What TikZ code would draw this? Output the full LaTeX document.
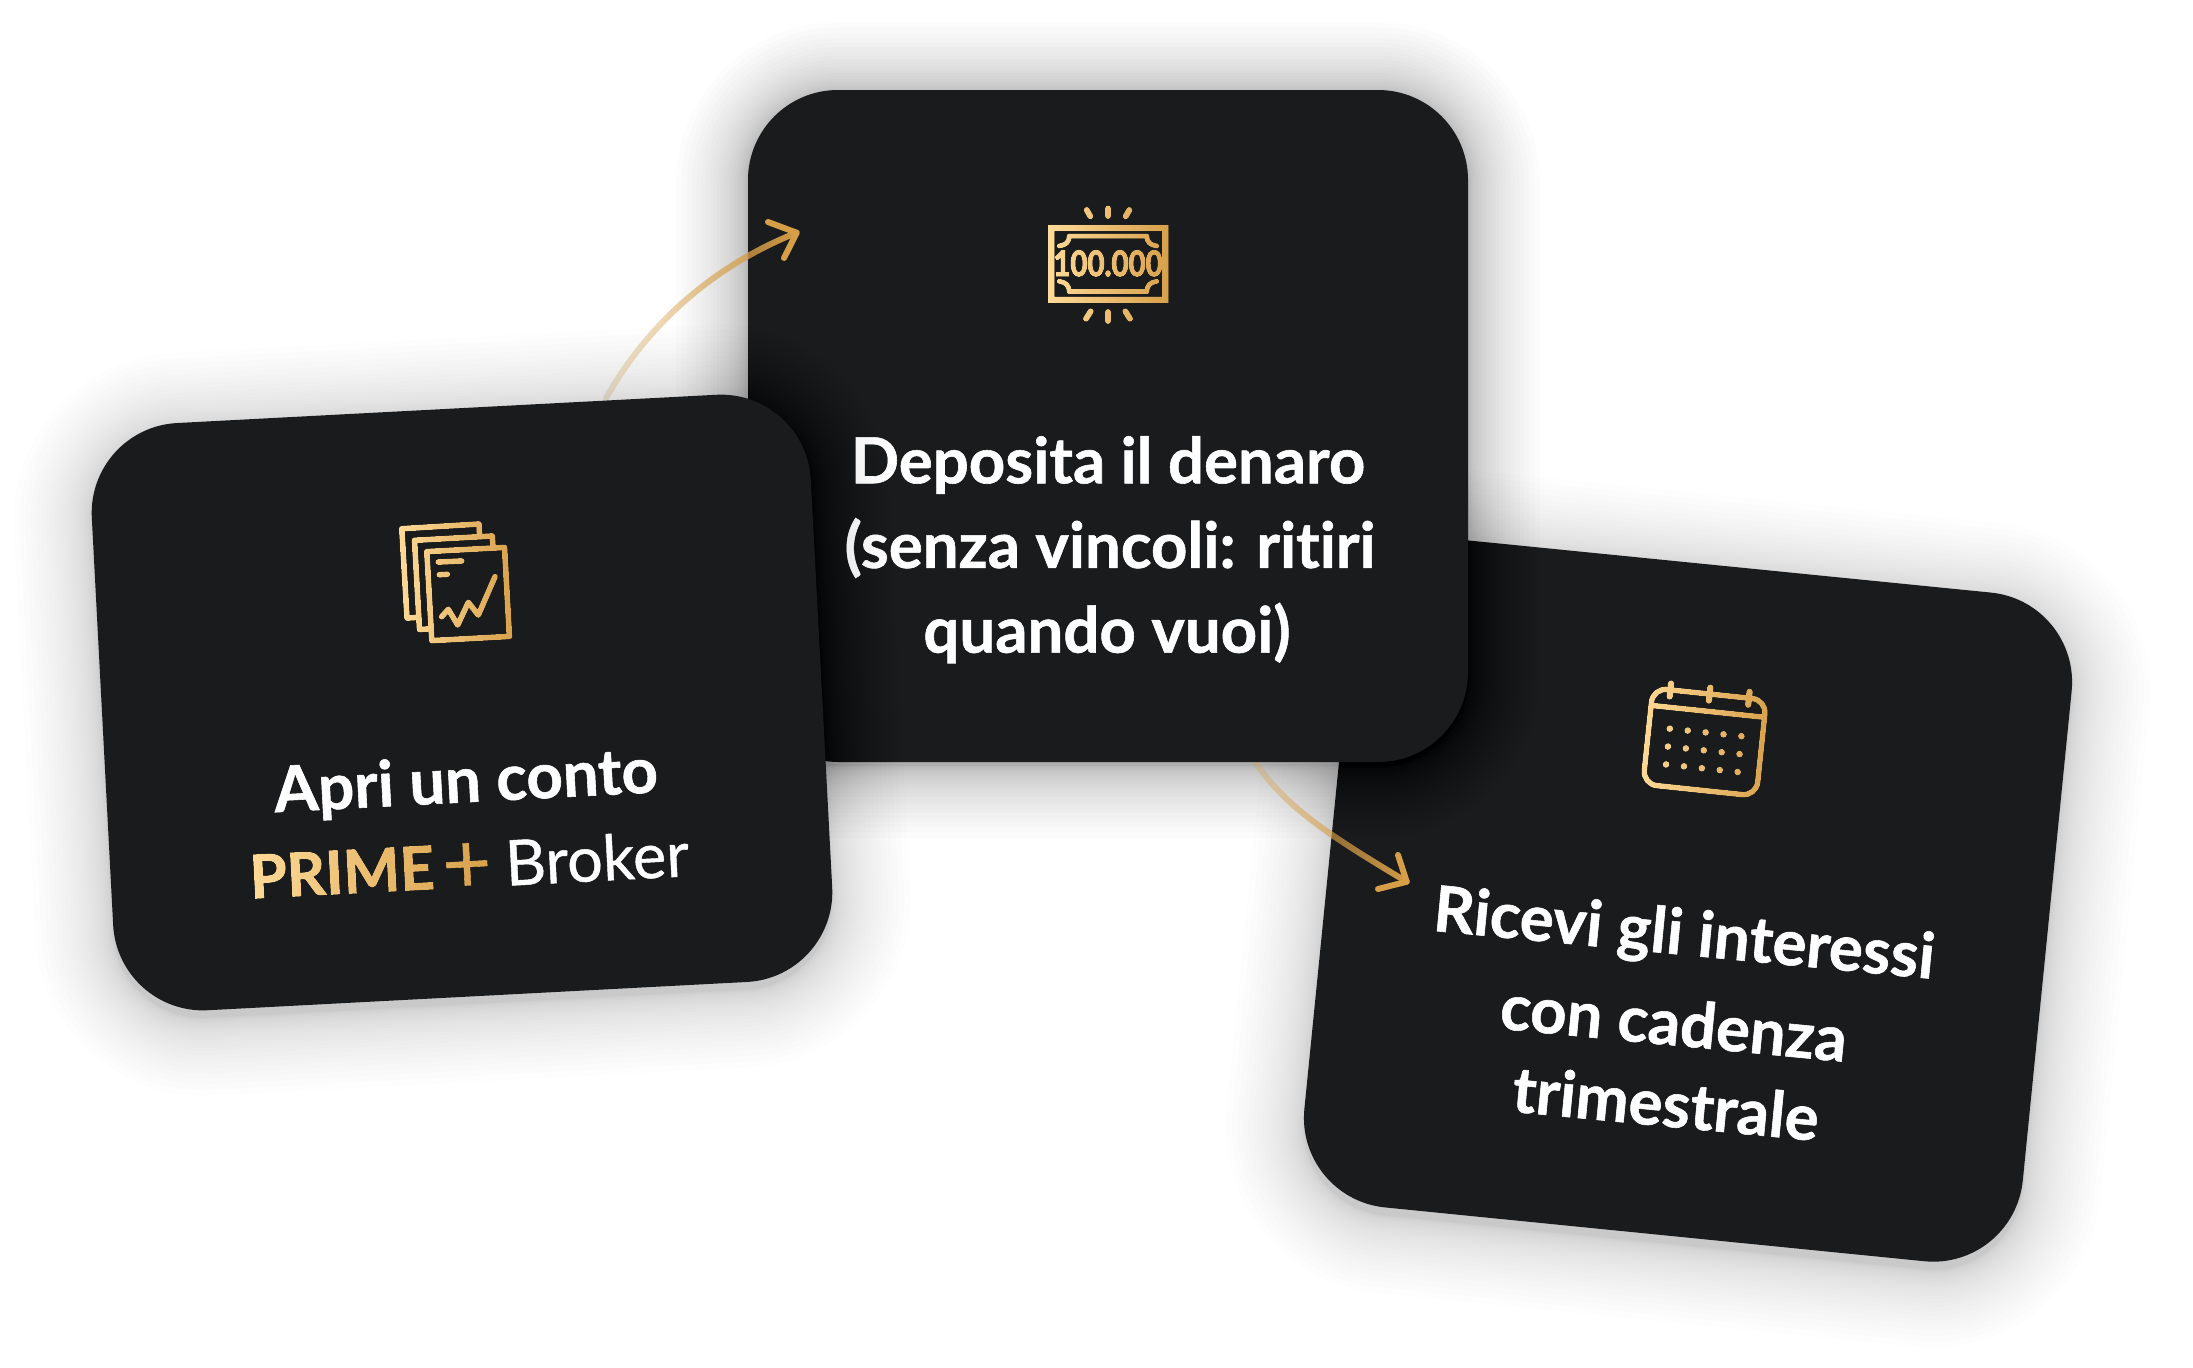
\documentclass[tikz,border=0pt]{standalone}
\usepackage{fontspec}
\setmainfont{Lato}
\newfontfamily\latof[Ligatures=NoCommon,BoldFeatures={FakeBold=0.9}]{Lato}
\newfontfamily\latom[Ligatures=NoCommon,UprightFeatures={FakeBold=0.7}]{Lato}
\newfontfamily\latoh[Ligatures=NoCommon,BoldFeatures={FakeBold=1.8}]{Lato}
\newfontfamily\latox[BoldFeatures={FakeBold=4}]{Lato}
\usetikzlibrary{fadings}
\definecolor{cardc}{HTML}{191B1D}
\definecolor{gL}{HTML}{FFDC9A}
\definecolor{gR}{HTML}{D69E47}
\tikzset{
  px/.style={x=1pt,y=-1pt},
  card/.style={fill=cardc,draw=none,rounded corners=90pt,inner sep=0pt,minimum width=720pt},
  cardtext/.style={text=white,font=\latof\bfseries\fontsize{63.5}{66}\selectfont,inner sep=0pt},
  brokertext/.style={text=white,font=\latom\fontsize{63}{66}\selectfont,inner sep=0pt},
  ico/.style={transparent!0,line cap=round,line join=round,line width=5.8pt},
  arrowline/.style={draw=gR,line width=6pt,line cap=round,line join=round}
}
\tikzfading[name=arrowfadeA,left color=transparent!82,right color=transparent!0]
\tikzfading[name=arrowfadeB,left color=transparent!72,right color=transparent!0]
\begin{tikzfadingfrompicture}[name=iconA,px]
  \path (395,515) rectangle (520,650);
  \draw[ico] (426.8,551.6) -- (504.5,547.4) -- (509.4,636.4) -- (431.8,640.6) -- cycle;
  \draw[ico] (493,547) -- (492.3,536) -- (414.5,540.3) -- (419.5,629.5) -- (428,629);
  \draw[ico] (479.5,535) -- (479,524) -- (401.8,528.7) -- (407,618) -- (416,617.5);
  \draw[ico] (438.3,562) -- (461.7,561);
  \draw[ico] (439.3,574.7) -- (447.3,574.3);
  \draw[ico] (441.7,616.7) -- (448.3,609.3) -- (457.7,625) -- (468.3,602.3) -- (478.3,615) -- (495,576.7);
\end{tikzfadingfrompicture}
\begin{tikzfadingfrompicture}[name=iconB,px]
  \path (1045,200) rectangle (1172,330);
  \draw[ico,line width=6.4pt,line cap=butt,line join=miter] (1051.3,228) rectangle (1165.3,299.7);
  \draw[ico,line width=5pt] (1059.3,246) .. controls (1066,245) and (1069,242) .. (1069.3,236) -- (1146.7,236) .. controls (1147,242) and (1150,245) .. (1156.7,246);
  \draw[ico,line width=5pt] (1059.3,281.3) .. controls (1066,282.3) and (1069,285.5) .. (1069.3,291.7) -- (1146.7,291.7) .. controls (1147,285.5) and (1150,282.3) .. (1156.7,281.3);
  \foreach \xa/\ya/\xb/\yb in {1086.7/210/1090.3/216.3,1108/208.5/1108/216,1129.3/210/1125.7/216.3,1090.7/311.3/1086/318.7,1108/312/1108/321,1125.3/311.3/1130/318.7}
    \draw[ico,line width=6pt] (\xa,\ya) -- (\xb,\yb);
  \node[text=transparent!0,font=\latox\bfseries\fontsize{35}{35}\selectfont,xscale=.84,inner sep=0pt] at (1108,263.3) {100.000};
\end{tikzfadingfrompicture}
\begin{tikzfadingfrompicture}[name=iconC,px]
  \path (1635,670) rectangle (1775,800);
  \begin{scope}[shift={(1703.7,750.3)},rotate=-6]
    \draw[ico,line width=5.6pt,rounded corners=14pt] (-57,-56.6) rectangle (57,40);
    \draw[ico,line width=5.6pt,line cap=butt] (-57,-39.2) -- (57,-39.2);
    \foreach \x in {-39.5,0,39.5} \draw[ico,line width=6.4pt] (\x,-63) -- (\x,-50);
    \foreach \x in {-36,-18,0,18,36} \foreach \y in {-18,0,18}
      \fill[transparent!0] (\x,\y) circle (3.4pt);
  \end{scope}
\end{tikzfadingfrompicture}
\begin{tikzfadingfrompicture}[name=primeF,px]
  \path (240,830) rectangle (500,905);
  \node[text=transparent!0,font=\latoh\bfseries\fontsize{60}{60}\selectfont,rotate=3,inner sep=0pt] at (342,872) {PRIME};
  \node[text=transparent!0,font=\latom\fontsize{85}{85}\selectfont,rotate=3,inner sep=0pt] at (467,868) {+};
\end{tikzfadingfrompicture}
% soft shadow: cx cy w h rot spread alpha
\newcommand\softshade[7]{%
  \begin{scope}[shift={(#1,#2)},rotate=#5]
    \foreach \i in {0,...,26}{
      \pgfmathsetmacro\ee{#6*(\i/26)*(\i/26)}
      \pgfmathsetmacro\rr{90+\ee}
      \fill[black,opacity=#7,rounded corners=\rr pt] ({-#3/2-\ee},{-#4/2-\ee}) rectangle ({#3/2+\ee},{#4/2+\ee});
    }
  \end{scope}}
\begin{document}
\begin{tikzpicture}[px]
  \useasboundingbox (0,0) rectangle (2193,1368);
  \fill[white] (0,0) rectangle (2193,1368);
  % card 3
  \softshade{1688}{908}{722}{672}{-5.7}{78}{0.009}
  \node[card,minimum width=722pt,minimum height=672pt,rotate=-5.7] (c3) at (1688,900) {};
  % shadow of card 2, arrow 2
  \softshade{1108}{430}{720}{672}{0}{72}{0.011}
  \coordinate (a2s) at (1255,762);
  \coordinate (a2e) at (1406.7,881.7);
  \coordinate (h2a) at (1398,855);
  \coordinate (h2b) at (1378,889);
  \draw[arrowline,path fading=arrowfadeB] (a2s) .. controls (1285,805) and (1320,830) .. (a2e);
  \draw[arrowline] (h2a) -- (a2e) -- (h2b);
  % card 2
  \node[card,minimum height=672pt] (c2) at (1108,426) {};
  \node[cardtext] (t21) at (1108,465) {Deposita il denaro};
  \node[cardtext] (t22) at (1110,548) {(senza vincoli: ritiri};
  \node[cardtext] (t23) at (1107,633) {quando vuoi)};
  \shade[path fading=iconB,fit fading=false,fading transform={shift={(1108.5,265)}},left color=gL,right color=gR] (1045,200) rectangle (1172,330);
  % arrow 1
  \coordinate (a1s) at (606,398);
  \coordinate (a1e) at (796.7,232.7);
  \coordinate (h1a) at (768,222);
  \coordinate (h1b) at (784,258);
  \draw[arrowline,path fading=arrowfadeA] (a1s) .. controls (650,320) and (718,264) .. (a1e);
  \draw[arrowline] (h1a) -- (a1e) -- (h1b);
  % card 1
  \softshade{462}{710}{720}{588}{3}{78}{0.009}
  \node[card,minimum height=588pt,rotate=3] (c1) at (462,702.5) {};
  \shade[path fading=iconA,fit fading=false,fading transform={shift={(457.5,582.5)}},left color=gL,right color=gR] (395,515) rectangle (520,650);
  \node[cardtext,rotate=3] (t11) at (466,784) {Apri un conto};
  \shade[path fading=primeF,fit fading=false,fading transform={shift={(370,867.5)}},left color=gL,right color=gR] (240,830) rectangle (500,905);
  \node[brokertext,rotate=3] (t12) at (597,858) {Broker};
  % card 3 content
  \shade[path fading=iconC,fit fading=false,fading transform={shift={(1705,735)}},left color=gL,right color=gR] (1635,670) rectangle (1775,800);
  \node[cardtext,rotate=-5.5] (t31) at (1684,937) {Ricevi gli interessi};
  \node[cardtext,rotate=-5.5] (t32) at (1674,1022) {con cadenza};
  \node[cardtext,rotate=-5.5] (t33) at (1666,1103) {trimestrale};
\end{tikzpicture}
\end{document}
